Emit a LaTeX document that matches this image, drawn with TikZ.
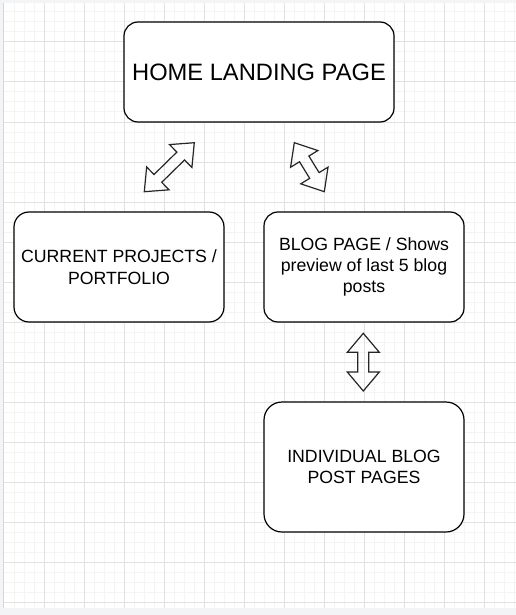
\documentclass[tikz,border=0pt]{standalone}
\usepackage{fontspec}
\setmainfont{Liberation Sans}
\usetikzlibrary{calc}

\definecolor{canvasbg}{HTML}{F3F4F6}
\definecolor{gridminor}{HTML}{F4F4F4}
\definecolor{gridmajor}{HTML}{E2E2E2}
\definecolor{edgegray}{HTML}{D4D6DA}

\tikzset{
  pagebox/.style={draw=black, line width=1.2pt, fill=white, inner sep=0pt,
    align=center, text=black, rounded corners=#1},
  pagebox/.default=14pt,
  bigtext/.style={font=\fontsize{23.7}{28}\selectfont},
  smalltext/.style={font=\fontsize{17.7}{21.4}\selectfont},
  flexarrowline/.style={draw=black!85, line width=1.2pt, line join=miter},
  minorline/.style={draw=gridminor, line width=1pt},
  majorline/.style={draw=gridmajor, line width=1pt},
}

% hollow two-headed block arrow between two named points
\newcommand\flexarrow[2]{%
  \path let \p1=($(#2)-(#1)$) in
    \pgfextra{\pgfmathsetmacro\fa{atan2(\y1,\x1)}%
              \pgfmathsetmacro\fl{veclen(\x1,\y1)}%
              \global\let\flang\fa\global\let\fllen\fl};
  \begin{scope}[shift={(#1)}, rotate=\flang, x=1pt, y=1pt]
    \draw[flexarrowline] (0,0) -- (19,16) -- (19,5.5) -- ({\fllen-19},5.5)
      -- ({\fllen-19},16) -- (\fllen,0) -- ({\fllen-19},-16)
      -- ({\fllen-19},-5.5) -- (19,-5.5) -- (19,-16) -- cycle;
  \end{scope}%
}

\begin{document}
\begin{tikzpicture}[x=1pt, y=-1pt]
  \useasboundingbox (0,0) rectangle (516,615);
  % editor surface and grid
  \fill[canvasbg] (0,0) rectangle (516,615);
  \fill[white] (4,3) rectangle (516,608);
  \foreach \gx in {14,24,...,514} \draw[minorline] (\gx,3) -- (\gx,608);
  \foreach \gy in {12,22,...,602} \draw[minorline] (4,\gy) -- (516,\gy);
  \foreach \gx in {44,84,...,484} \draw[majorline] (\gx,3) -- (\gx,608);
  \foreach \gy in {42,82,...,602} \draw[majorline] (4,\gy) -- (516,\gy);
  \draw[edgegray, line width=0.8pt] (3.6,3) -- (3.6,608);

  % pages
  \node[pagebox=14pt, bigtext, minimum width=270pt, minimum height=100pt]
    (home) at (259,72) {HOME LANDING PAGE};
  \node[pagebox=15pt, smalltext, minimum width=210pt, minimum height=110pt]
    (projects) at (119,267) {CURRENT PROJECTS /\\PORTFOLIO};
  \node[pagebox=14pt, smalltext, minimum width=200pt, minimum height=110pt]
    (blog) at (364,267) {BLOG PAGE / Shows\\preview of last 5 blog\\posts};
  \node[pagebox=18pt, smalltext, minimum width=200pt, minimum height=130pt]
    (posts) at (364,467) {INDIVIDUAL BLOG\\POST PAGES};

  % arrow end points between the pages
  \coordinate (a1s) at (144.3,191.7);
  \coordinate (a1e) at (194.3,142.7);
  \coordinate (a2s) at (294.3,142.7);
  \coordinate (a2e) at (324.3,191.7);
  \coordinate (a3s) at (363.3,333.3);
  \coordinate (a3e) at (363.3,391.0);

  \flexarrow{a1s}{a1e}
  \flexarrow{a2s}{a2e}
  \flexarrow{a3s}{a3e}
\end{tikzpicture}
\end{document}
